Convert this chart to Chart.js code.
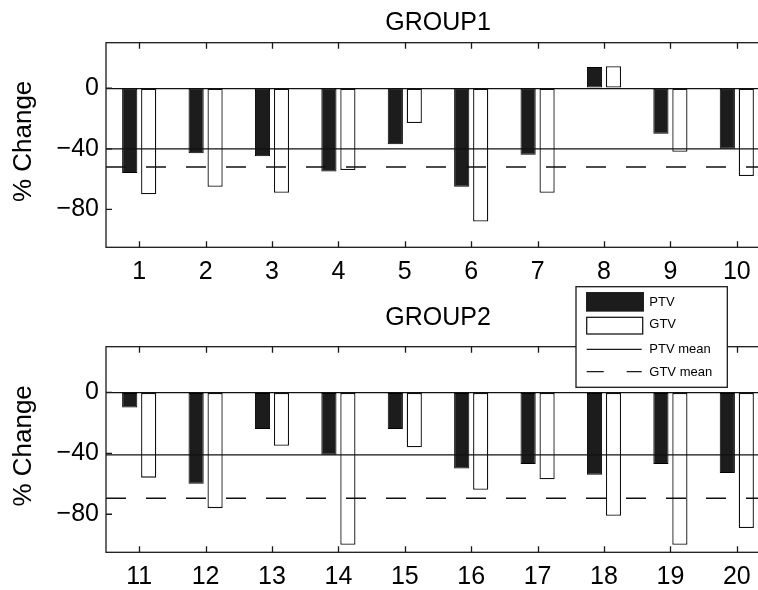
<!DOCTYPE html>
<html>
<head>
<meta charset="utf-8">
<script src="https://cdn.jsdelivr.net/npm/chart.js@4"></script>
<style>
  html, body { margin: 0; padding: 0; background: #fff; width: 758px; height: 590px; overflow: hidden; }
  #wrap { position: relative; width: 758px; height: 590px; overflow: hidden; }
  canvas { position: absolute; left: 0; }
  #c1 { top: 0; }
  #c2 { top: 280px; }
</style>
</head>
<body>
<div id="wrap">
  <canvas id="c1" width="780" height="290"></canvas>
  <canvas id="c2" width="780" height="310"></canvas>
</div>
<script>
// values (% change per patient)
var groupTitles = ['GROUP1', 'GROUP2'];
var patients1 = ['1', '2', '3', '4', '5', '6', '7', '8', '9', '10'];
var patients2 = ['11', '12', '13', '14', '15', '16', '17', '18', '19', '20'];
var ptv1 = [-56, -43, -45, -55, -37, -65, -44, 14, -30, -40];
var gtv1 = [-70, -65, -69, -54, -23, -88, -69, 14.5, -42, -58];
var ptv2 = [-10, -60, -24, -41, -24, -50, -47, -54, -47, -53];
var gtv2 = [-56, -76, -35, -100, -36, -64, -57, -81, -100, -89];
var ptvMeans = [-40, -41];
var gtvMeans = [-52, -69.5];
var yTicks = [-80, -40, 0];
var legendLabels = ['PTV', 'GTV', 'PTV mean', 'GTV mean'];

var FONT = "'Liberation Sans', Arial, Helvetica, sans-serif";
Chart.defaults.font.family = FONT;
Chart.defaults.color = '#000';

function fmtTick(v) {
	return v < 0 ? '\u2212' + Math.abs(v) : String(v);
}

// mean lines across the whole axes, box and inward ticks (matlab look)
var boxPlugin = {
	id: 'boxAxes',
	afterDatasetsDraw: function(chart, args, opts) {
		var a = chart.chartArea, ctx = chart.ctx;
		var xs = chart.scales.x, ys = chart.scales.y;
		ctx.save();
		ctx.strokeStyle = '#111';
		ctx.lineWidth = 1.3;
		var yp = ys.getPixelForValue(opts.ptvMean);
		ctx.beginPath();
		ctx.moveTo(a.left, yp); ctx.lineTo(a.right, yp);
		ctx.stroke();
		var yg = ys.getPixelForValue(opts.gtvMean);
		ctx.setLineDash([20, 20]);
		ctx.beginPath();
		ctx.moveTo(a.left, yg); ctx.lineTo(a.right, yg);
		ctx.stroke();
		ctx.setLineDash([]);

		ctx.strokeStyle = '#1a1a1a';
		ctx.strokeRect(a.left, a.top, a.right - a.left, a.bottom - a.top);
		ctx.beginPath();
		for (var i = 0; i < xs.ticks.length; i++) {
			var x = Math.round(xs.getPixelForTick(i)) + 0.5;
			ctx.moveTo(x, a.top); ctx.lineTo(x, a.top + 6);
			ctx.moveTo(x, a.bottom); ctx.lineTo(x, a.bottom - 6);
		}
		yTicks.forEach(function(v) {
			var y = ys.getPixelForValue(v);
			ctx.moveTo(a.left, y); ctx.lineTo(a.left + 6, y);
			ctx.moveTo(a.right, y); ctx.lineTo(a.right - 6, y);
		});
		ctx.stroke();
		ctx.restore();
	}
};

var legendPlugin = {
	id: 'boxLegend',
	afterDraw: function(chart, args, opts) {
		if (!opts.show) return;
		var ctx = chart.ctx;
		var L = 576, T = 6.7, W = 151.3, H = 100.6;
		ctx.save();
		ctx.fillStyle = '#fff';
		ctx.fillRect(L, T, W, H);
		ctx.strokeStyle = '#1a1a1a';
		ctx.lineWidth = 1.3;
		ctx.strokeRect(L, T, W, H);
		// PTV patch
		ctx.fillStyle = '#1c1c1c';
		ctx.fillRect(586.7, 12.7, 56.6, 18.3);
		ctx.strokeRect(586.7, 12.7, 56.6, 18.3);
		// GTV patch
		ctx.fillStyle = '#fff';
		ctx.fillRect(586.7, 37.3, 56, 16.7);
		ctx.strokeRect(586.7, 37.3, 56, 16.7);
		// mean lines
		ctx.beginPath();
		ctx.moveTo(586.7, 69.3); ctx.lineTo(641.7, 69.3);
		ctx.stroke();
		ctx.setLineDash([17, 23]);
		ctx.beginPath();
		ctx.moveTo(586.7, 91.7); ctx.lineTo(641.7, 91.7);
		ctx.stroke();
		ctx.setLineDash([]);
		ctx.fillStyle = '#000';
		ctx.font = '13px ' + FONT;
		ctx.textBaseline = 'middle';
		ctx.textAlign = 'left';
		var ys = [22.3, 44.7, 69.5, 92.3];
		legendLabels.forEach(function(t, i) { ctx.fillText(t, 649.3, ys[i]); });
		ctx.restore();
	}
};

function makeChart(id, title, labels, ptv, gtv, ptvMean, gtvMean, lay) {
	return new Chart(document.getElementById(id), {
		type: 'bar',
		data: {
			labels: labels,
			datasets: [
				{label: 'PTV', data: ptv, backgroundColor: '#1c1c1c', borderColor: '#000', borderWidth: 1,
					borderSkipped: false, barPercentage: 0.8, categoryPercentage: 0.5714},
				{label: 'GTV', data: gtv, backgroundColor: '#fff', borderColor: '#111', borderWidth: 1.3,
					borderSkipped: false, barPercentage: 0.8, categoryPercentage: 0.5714}
			]
		},
		options: {
			responsive: false,
			animation: false,
			events: [],
			layout: {padding: {left: 0, right: 10, top: 0, bottom: 0}},
			plugins: {
				legend: {display: false},
				tooltip: {enabled: false},
				title: {
					display: true, text: title, fullSize: false, color: '#000',
					font: {size: 25, weight: 'normal', family: FONT},
					padding: {top: lay.titleTop, bottom: lay.titleBottom}
				},
				boxAxes: {ptvMean: ptvMean, gtvMean: gtvMean},
				boxLegend: {show: lay.legend}
			},
			scales: {
				x: {
					type: 'category',
					grid: {display: false, drawTicks: false},
					border: {display: false},
					ticks: {font: {size: 25}, color: '#000', padding: 10, maxRotation: 0, autoSkip: false},
					afterFit: function(s) { s.height = lay.xHeight; }
				},
				y: {
					min: -105, max: 30,
					grid: {
						drawTicks: false,
						lineWidth: 1.3,
						color: function(c) { return c.tick && c.tick.value === 0 ? '#111' : 'rgba(0,0,0,0)'; }
					},
					border: {display: false},
					afterBuildTicks: function(s) { s.ticks = yTicks.map(function(v) { return {value: v}; }); },
					ticks: {font: {size: 25}, color: '#000', padding: 7, callback: fmtTick},
					title: {display: true, text: '\u00a0% Change', color: '#000', font: {size: 26}, padding: {top: 8, bottom: 0}},
					afterFit: function(s) { s.width = 106; }
				}
			}
		},
		plugins: [boxPlugin, legendPlugin]
	});
}

makeChart('c1', groupTitles[0], patients1, ptv1, gtv1, ptvMeans[0], gtvMeans[0],
	{titleTop: 8.3, titleBottom: 4.4, xHeight: 42.7, legend: false});
makeChart('c2', groupTitles[1], patients2, ptv2, gtv2, ptvMeans[1], gtvMeans[1],
	{titleTop: 23.3, titleBottom: 13.4, xHeight: 37.7, legend: true});
</script>
</body>
</html>
